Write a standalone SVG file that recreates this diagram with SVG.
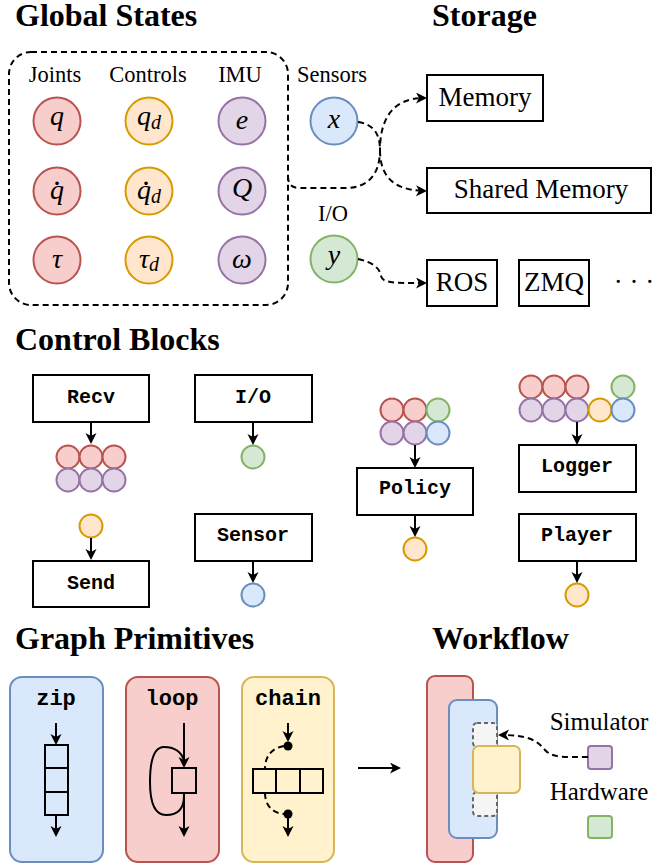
<svg xmlns="http://www.w3.org/2000/svg" width="653" height="867" viewBox="0 0 653 867">
<defs>
<style>
.title{font-family:"Liberation Serif",serif;font-weight:bold;font-size:32px;fill:#000}
.lbl{font-family:"Liberation Serif",serif;font-size:22.5px;fill:#000}
.slbl{font-family:"Liberation Serif",serif;font-size:27px;fill:#000;text-anchor:middle}
.wlbl{font-family:"Liberation Serif",serif;font-size:25px;fill:#000;text-anchor:middle}
.math{font-family:"Liberation Serif",serif;font-style:italic;font-size:28px;fill:#000;text-anchor:middle}
.acc{font-family:"Liberation Serif",serif;font-size:30px;fill:#000;text-anchor:middle}
.sub{font-size:20px}
.mono{font-family:"Liberation Mono","Courier New",monospace;font-weight:bold;font-size:20px;fill:#000;text-anchor:middle}
.mono2{font-family:"Liberation Mono","Courier New",monospace;font-weight:bold;font-size:22px;fill:#000;text-anchor:middle}
.box{fill:#fff;stroke:#000;stroke-width:2}
.red{fill:#f8cecc;stroke:#b85450;stroke-width:2}
.org{fill:#ffe6cc;stroke:#d79b00;stroke-width:2}
.pur{fill:#e1d5e7;stroke:#9673a6;stroke-width:2}
.grn{fill:#d5e8d4;stroke:#82b366;stroke-width:2}
.blu{fill:#dae8fc;stroke:#6c8ebf;stroke-width:2}
.yel{fill:#fff2cc;stroke:#d6b656;stroke-width:2}
.gry{fill:#f5f5f5;stroke:#666;stroke-width:2;stroke-dasharray:4 3}
.ln{fill:none;stroke:#000;stroke-width:2}
.arr{fill:none;stroke:#000;stroke-width:2;marker-end:url(#ah)}
.darr{fill:none;stroke:#000;stroke-width:2;stroke-dasharray:6 4;marker-end:url(#ah)}
.dash{fill:none;stroke:#000;stroke-width:2;stroke-dasharray:6 4}
</style>
<marker id="ah" markerUnits="userSpaceOnUse" markerWidth="14" markerHeight="14" refX="8" refY="5.5" orient="auto">
<path d="M0,0 L11,5.5 L0,11 L3,5.5 Z" fill="#000"/>
</marker>
</defs>

<text class="title" x="15" y="26">Global States</text>
<text class="title" x="432" y="26">Storage</text>
<text class="title" x="15" y="350">Control Blocks</text>
<text class="title" x="15" y="649">Graph Primitives</text>
<text class="title" x="432" y="649">Workflow</text>

<g id="global-states">
<rect x="9" y="52" width="279" height="253" rx="22" class="dash"/>
<text class="lbl" x="55" y="82" text-anchor="middle">Joints</text>
<text class="lbl" x="148" y="82" text-anchor="middle">Controls</text>
<text class="lbl" x="240" y="82" text-anchor="middle">IMU</text>
</g>
<g id="state-q"><circle cx="57" cy="121" r="23.5" class="red"/><text class="math" x="57" y="125">q</text></g>
<g id="state-qdot"><circle cx="57" cy="191" r="23.5" class="red"/><text class="math" x="57" y="199">q</text><text class="acc" x="57" y="185">.</text></g>
<g id="state-tau"><circle cx="57" cy="260" r="23.5" class="red"/><text class="math" x="57" y="268">τ</text></g>
<g id="state-qd"><circle cx="149" cy="121" r="23.5" class="org"/><text class="math" x="149" y="125">q<tspan class="sub" dy="4">d</tspan></text></g>
<g id="state-qddot"><circle cx="149" cy="191" r="23.5" class="org"/><text class="math" x="149" y="199">q<tspan class="sub" dy="4">d</tspan></text><text class="acc" x="146" y="185">.</text></g>
<g id="state-taud"><circle cx="149" cy="260" r="23.5" class="org"/><text class="math" x="149" y="268">τ<tspan class="sub" dy="3">d</tspan></text></g>
<g id="state-e"><circle cx="242" cy="121" r="23.5" class="pur"/><text class="math" x="242" y="129">e</text></g>
<g id="state-Q"><circle cx="242" cy="191" r="23.5" class="pur"/><text class="math" x="242" y="197">Q</text></g>
<g id="state-omega"><circle cx="242" cy="260" r="23.5" class="pur"/><text class="math" x="242" y="268">ω</text></g>

<g id="sensors"><text class="lbl" x="332" y="82" text-anchor="middle">Sensors</text><circle cx="334" cy="121" r="23.5" class="blu"/><text class="math" x="334" y="128">x</text></g>
<g id="io"><text class="lbl" x="333" y="221" text-anchor="middle">I/O</text><circle cx="334" cy="259" r="23.5" class="grn"/><text class="math" x="334" y="264">y</text></g>

<g id="memory"><rect x="427" y="75" width="116" height="46" class="box"/><text class="slbl" x="485" y="106">Memory</text></g>
<g id="shared-memory"><rect x="427" y="168" width="224" height="45" class="box"/><text class="slbl" x="541" y="198">Shared Memory</text></g>
<g id="ros"><rect x="427" y="260" width="70" height="46" class="box"/><text class="slbl" x="462" y="291">ROS</text></g>
<g id="zmq"><rect x="519" y="260" width="70" height="46" class="box"/><text class="slbl" x="554" y="291">ZMQ</text></g>
<g id="more"><text class="slbl" x="634" y="291">· · ·</text></g>

<g id="blk-recv"><rect x="33" y="375" width="116" height="47" class="box"/><text class="mono" x="91" y="403">Recv</text></g>
<g id="recv-out">
<circle cx="68" cy="457" r="11.5" class="red"/><circle cx="91" cy="457" r="11.5" class="red"/><circle cx="114" cy="457" r="11.5" class="red"/>
<circle cx="68" cy="480" r="11.5" class="pur"/><circle cx="91" cy="480" r="11.5" class="pur"/><circle cx="114" cy="480" r="11.5" class="pur"/>
</g>
<g id="send-in"><circle cx="91" cy="526" r="11.5" class="org"/></g>
<g id="blk-send"><rect x="33" y="561" width="116" height="46" class="box"/><text class="mono" x="91" y="589">Send</text></g>

<g id="blk-io"><rect x="195" y="375" width="117" height="47" class="box"/><text class="mono" x="253" y="403">I/O</text></g>
<g id="io-out"><circle cx="253" cy="457" r="11.5" class="grn"/></g>
<g id="blk-sensor"><rect x="195" y="514" width="117" height="47" class="box"/><text class="mono" x="253" y="541">Sensor</text></g>
<g id="sensor-out"><circle cx="253" cy="595" r="11.5" class="blu"/></g>

<g id="policy-in">
<circle cx="392" cy="410" r="11.5" class="red"/><circle cx="415" cy="410" r="11.5" class="red"/><circle cx="438" cy="410" r="11.5" class="grn"/>
<circle cx="392" cy="433" r="11.5" class="pur"/><circle cx="415" cy="433" r="11.5" class="pur"/><circle cx="438" cy="433" r="11.5" class="blu"/>
</g>
<g id="blk-policy"><rect x="357" y="468" width="116" height="47" class="box"/><text class="mono" x="415" y="494">Policy</text></g>
<g id="policy-out"><circle cx="415" cy="549" r="11.5" class="org"/></g>

<g id="logger-in">
<circle cx="531" cy="387" r="11.5" class="red"/><circle cx="554" cy="387" r="11.5" class="red"/><circle cx="577" cy="387" r="11.5" class="red"/><circle cx="623" cy="387" r="11.5" class="grn"/>
<circle cx="531" cy="410" r="11.5" class="pur"/><circle cx="554" cy="410" r="11.5" class="pur"/><circle cx="577" cy="410" r="11.5" class="pur"/><circle cx="600" cy="410" r="11.5" class="org"/><circle cx="623" cy="410" r="11.5" class="blu"/>
</g>
<g id="blk-logger"><rect x="519" y="445" width="117" height="47" class="box"/><text class="mono" x="577" y="472">Logger</text></g>
<g id="blk-player"><rect x="519" y="514" width="117" height="47" class="box"/><text class="mono" x="577" y="541">Player</text></g>
<g id="player-out"><circle cx="577" cy="595" r="11.5" class="org"/></g>

<g id="prim-zip">
<rect x="10" y="677" width="93" height="185" rx="12" class="blu"/>
<text class="mono2" x="56" y="705">zip</text>
<rect x="45" y="745" width="23" height="70" class="ln"/>
<path d="M45,768 H68 M45,792 H68" class="ln"/>
</g>
<g id="prim-loop">
<rect x="126" y="677" width="93" height="185" rx="12" class="red"/>
<text class="mono2" x="172" y="705">loop</text>
<rect x="172" y="768" width="24" height="25" class="ln"/>
<path d="M184,760 C180,749 172,747 164,747 C154,747 150,760 150,782 C150,805 156,815 166,815 C178,815 184,808 184,796" class="ln"/>
</g>
<g id="prim-chain">
<rect x="242" y="677" width="92" height="185" rx="12" class="yel"/>
<text class="mono2" x="288" y="705">chain</text>
<rect x="253" y="769" width="70" height="24" class="ln"/>
<path d="M276,769 V793 M300,769 V793" class="ln"/>
<circle cx="288" cy="746" r="4.5" fill="#000"/>
<circle cx="288" cy="814" r="4.5" fill="#000"/>
<path d="M284,746 C272,748 265,756 265,769" class="dash"/>
<path d="M265,793 C265,805 272,813 284,814" class="dash"/>
</g>

<g id="wf-stack">
<rect x="427" y="676" width="46" height="186" rx="8" class="red"/>
<rect x="449" y="700" width="48" height="138" rx="8" class="blu"/>
<rect x="473" y="723" width="24" height="24" rx="4" class="gry"/>
<rect x="473" y="792" width="24" height="24" rx="4" class="gry"/>
<rect x="473" y="746" width="47" height="47" rx="6" class="yel"/>
</g>
<g id="wf-simulator"><text class="wlbl" x="599" y="730">Simulator</text><rect x="588" y="746" width="24" height="23" rx="3" class="pur"/></g>
<g id="wf-hardware"><text class="wlbl" x="599" y="800">Hardware</text><rect x="588" y="816" width="24" height="22" rx="3" class="grn"/></g>

<g id="connectors">
<path d="M288,176 C288,185 292,188 300,188 L345,188 C370,188 380,172 380,150 C380,120 392,98 424,98" class="darr"/>
<path d="M358,122 C372,124 380,132 380,150 C380,175 392,190 424,191" class="darr"/>
<path d="M358,259 C372,262 380,268 381,276 C383,283 392,283 424,283" class="darr"/>
<path d="M91,422 V441" class="arr"/>
<path d="M91,538 V557" class="arr"/>
<path d="M253,422 V442" class="arr"/>
<path d="M253,561 V580" class="arr"/>
<path d="M415,445 V465" class="arr"/>
<path d="M415,515 V534" class="arr"/>
<path d="M577,422 V442" class="arr"/>
<path d="M577,561 V580" class="arr"/>
<path d="M56,723 V742" class="arr"/>
<path d="M56,815 V834" class="arr"/>
<path d="M184,723 V765" class="arr"/>
<path d="M184,793 V834" class="arr"/>
<path d="M288,723 V739" class="arr"/>
<path d="M288,818 V834" class="arr"/>
<path d="M358,768 H398" class="arr"/>
<path d="M588,757 C565,757 552,758 545,750 C536,739 526,735 501,735" class="darr"/>
</g>
</svg>
